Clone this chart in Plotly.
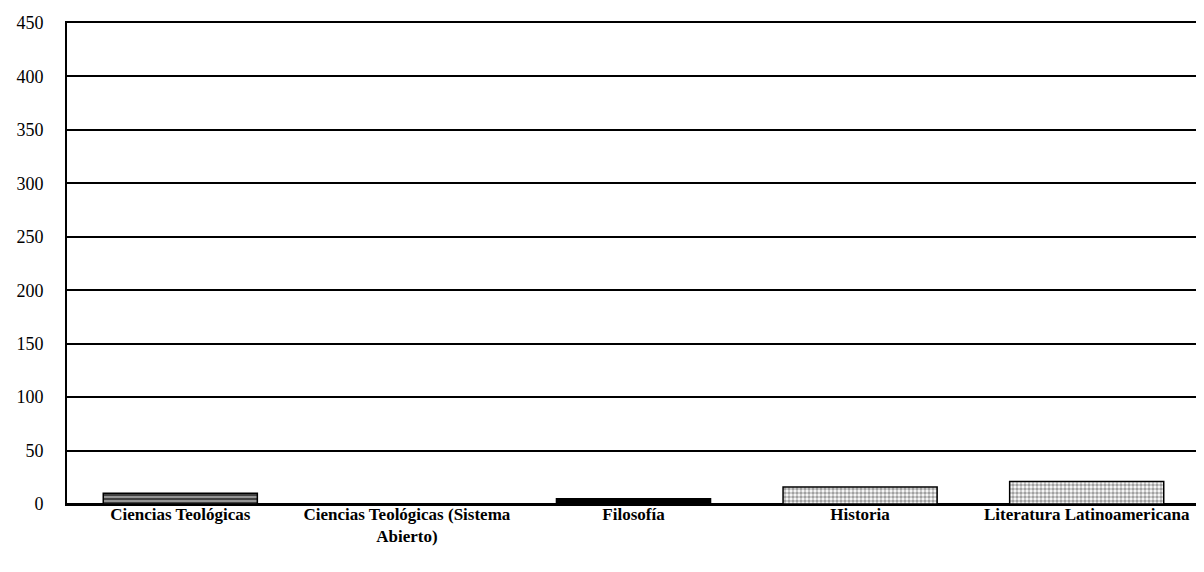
import plotly.graph_objects as go

categories = ["Ciencias Teológicas", "Ciencias Teológicas (Sistema<br>Abierto)", "Filosofía", "Historia", "Literatura Latinoamericana"]
values = [10, 0, 5, 16, 21]
y_ticks = [0, 50, 100, 150, 200, 250, 300, 350, 400, 450]

fill_colors = ["#2b2b2b", "#2b2b2b", "#000000", "#ffffff", "#ffffff"]
pattern_shapes = ["-", "-", "", ".", "."]
pattern_fg = ["#8a8a8a", "#8a8a8a", "#000000", "#222222", "#222222"]

fig = go.Figure(go.Bar(
    x=categories,
    y=values,
    marker=dict(
        color=fill_colors,
        line=dict(color="black", width=1.5),
        pattern=dict(shape=pattern_shapes, fgcolor=pattern_fg, size=4, solidity=0.6),
    ),
    width=0.68,
))

fig.update_layout(
    width=1204, height=572,
    margin=dict(l=59, r=12, t=15, b=76),
    plot_bgcolor="white", paper_bgcolor="white",
    showlegend=False,
    font=dict(family="Liberation Serif", color="black"),
)
fig.update_yaxes(
    range=[0, 450], tickvals=y_ticks, ticktext=[str(v) for v in y_ticks],
    showgrid=True, gridcolor="black", gridwidth=1.5,
    zeroline=True, zerolinecolor="black", zerolinewidth=1.5,
    showline=True, linecolor="black", linewidth=2,
    ticks="", ticklabelstandoff=18, automargin=False,
    tickfont=dict(family="Liberation Serif", size=18, color="black"),
)
fig.update_xaxes(
    showgrid=False, showline=True, mirror=True, linecolor="black", linewidth=1.5,
    ticks="", automargin=False, ticklabelstandoff=-6,
    tickfont=dict(family="Liberation Serif", size=17, color="black", weight="bold"),
    tickangle=0,
)

fig.write_html("out.html")
